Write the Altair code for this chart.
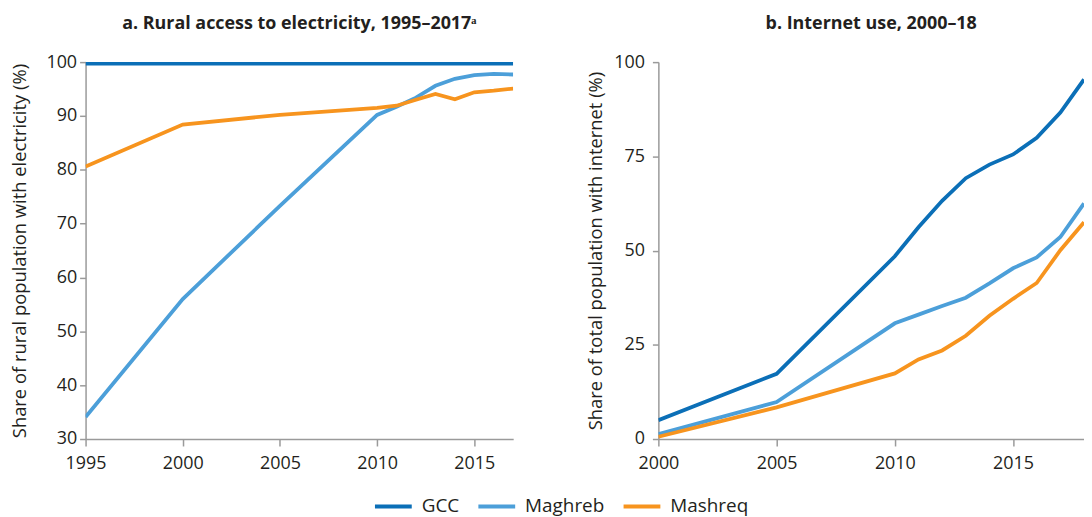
import altair as alt
import pandas as pd

series_names = ["GCC", "Maghreb", "Mashreq"]
series_colors = ["#0b6fb7", "#4c9fd9", "#f7941e"]

# Panel a: rural access to electricity (%)
elec_years = [1995, 2000, 2005, 2010, 2011, 2012, 2013, 2014, 2015, 2016, 2017]
elec_gcc = [99.7, 99.7, 99.7, 99.7, 99.7, 99.7, 99.7, 99.7, 99.7, 99.7, 99.7]
elec_maghreb = [34.1, 56.0, 73.3, 90.2, 91.7, 93.4, 95.6, 96.9, 97.6, 97.8, 97.7]
elec_mashreq = [80.6, 88.4, 90.2, 91.5, 91.9, 93.0, 94.1, 93.1, 94.4, 94.7, 95.1]

# Panel b: internet use (%)
net_years = [2000, 2005, 2010, 2011, 2012, 2013, 2014, 2015, 2016, 2017, 2018]
net_gcc = [5.0, 17.3, 48.5, 56.2, 63.2, 69.2, 72.8, 75.5, 79.9, 86.6, 95.4]
net_maghreb = [1.3, 9.8, 30.7, 33.0, 35.3, 37.5, 41.3, 45.3, 48.2, 53.6, 62.5]
net_mashreq = [0.6, 8.4, 17.4, 21.1, 23.5, 27.4, 32.7, 37.2, 41.4, 50.1, 57.5]

elec_xticks = [1995, 2000, 2005, 2010, 2015]
elec_yticks = [30, 40, 50, 60, 70, 80, 90, 100]
net_xticks = [2000, 2005, 2010, 2015]
net_yticks = [0, 25, 50, 75, 100]

FONT = "Open Sans"
TXT = "#231f20"
AXC = "#9a9a9a"


def long_df(years, gcc, maghreb, mashreq):
    rows = []
    for name, vals in zip(series_names, [gcc, maghreb, mashreq]):
        for yr, v in zip(years, vals):
            rows.append({"year": yr, "value": v, "region": name})
    return pd.DataFrame(rows)


color = alt.Color(
    "region:N",
    scale=alt.Scale(domain=series_names, range=series_colors),
    legend=alt.Legend(
        title=None,
        orient="none",
        legendX=289,
        legendY=426,
        direction="horizontal",
        symbolType="stroke",
        symbolSize=1369,
        symbolStrokeWidth=4,
        labelFontSize=19,
        labelFont=FONT,
        labelColor=TXT,
        labelOffset=8,
        columnPadding=11,
        padding=0,
    ),
)


def panel(df, title, xdom, xticks, ydom, yticks, ytitle, lab_pad, title_pad, width):
    x = alt.X(
        "year:Q",
        scale=alt.Scale(domain=xdom, nice=False, zero=False),
        axis=alt.Axis(
            values=xticks, format="d", title=None, grid=False,
            tickSize=7, labelPadding=9, labelFontSize=18, labelFont=FONT,
            labelColor=TXT, domainColor=AXC, tickColor=AXC, domainWidth=1.5,
            tickWidth=1.5, labelFlush=False,
        ),
    )
    y = alt.Y(
        "value:Q",
        scale=alt.Scale(domain=ydom, nice=False, zero=False),
        axis=alt.Axis(
            values=yticks, title=ytitle, grid=False, tickSize=6,
            labelPadding=lab_pad, labelFontSize=18, labelFont=FONT,
            labelColor=TXT, domainColor=AXC, tickColor=AXC, domainWidth=1.5,
            tickWidth=1.5, titleFont=FONT, titleFontSize=18.5,
            titleFontWeight="normal", titleColor=TXT, titlePadding=title_pad,
        ),
    )
    return (
        alt.Chart(df)
        .mark_line(strokeWidth=3.8, clip=True)
        .encode(x=x, y=y, color=color)
        .properties(
            width=width,
            height=379,
            title=alt.TitleParams(
                title, font=FONT, fontSize=18, fontWeight="bold",
                color=TXT, anchor="middle", offset=20,
            ),
        )
    )


left = panel(
    long_df(elec_years, elec_gcc, elec_maghreb, elec_mashreq),
    "a. Rural access to electricity, 1995–2017ᵃ",
    [1995, 2017], elec_xticks, [30, 100], elec_yticks,
    "Share of rural population with electricity (%)", 3, 17, 430,
)
right = panel(
    long_df(net_years, net_gcc, net_maghreb, net_mashreq),
    "b. Internet use, 2000–18",
    [2000, 2018], net_xticks, [0, 100], net_yticks,
    "Share of total population with internet (%)", 8, 8, 428,
)

chart = (
    alt.hconcat(left, right, spacing=74)
    .resolve_scale(color="shared")
    .resolve_legend(color="shared")
    .properties(padding={"left": 2, "top": 6, "right": 0, "bottom": 0})
    .configure_view(stroke=None)
)

chart.save("out.html", embed_options={"renderer": "svg", "actions": False})
